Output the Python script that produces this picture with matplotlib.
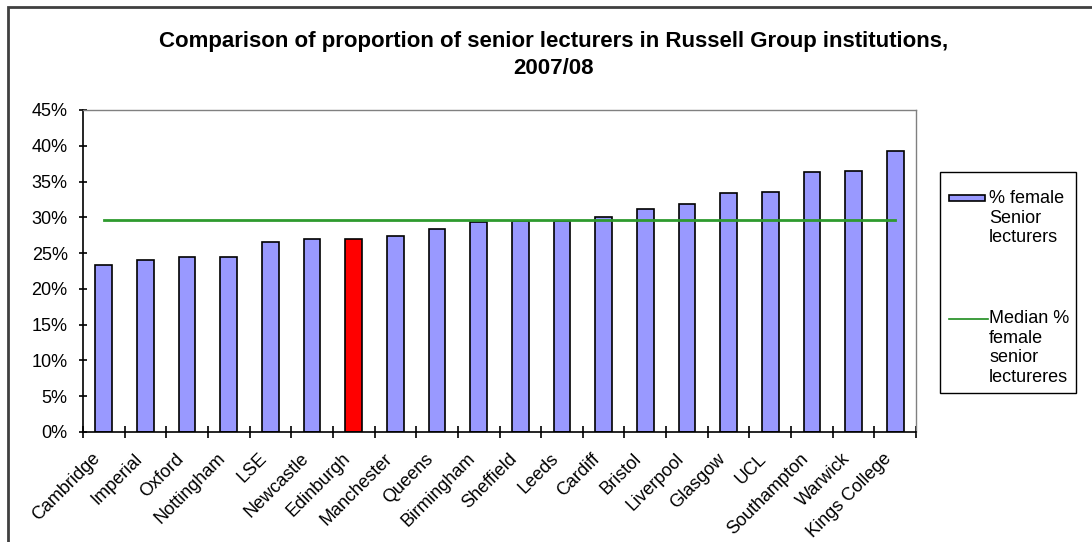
import matplotlib.pyplot as plt
from matplotlib.patches import Rectangle
from matplotlib.lines import Line2D
from matplotlib.ticker import MultipleLocator, FuncFormatter
from matplotlib.transforms import ScaledTranslation
import numpy as np

plt.rcParams['font.family'] = ['Liberation Sans', 'DejaVu Sans']

institutions = ['Cambridge', 'Imperial', 'Oxford', 'Nottingham', 'LSE', 'Newcastle',
                'Edinburgh', 'Manchester', 'Queens', 'Birmingham', 'Sheffield', 'Leeds',
                'Cardiff', 'Bristol', 'Liverpool', 'Glasgow', 'UCL', 'Southampton',
                'Warwick', 'Kings College']
pct_female = [23.3, 24.1, 24.5, 24.5, 26.5, 27.0, 27.0, 27.4, 28.3, 29.3,
              29.5, 29.5, 30.0, 31.2, 31.8, 33.4, 33.6, 36.3, 36.5, 39.3]
median_pct = 29.6
highlight = 'Edinburgh'
bar_label = '% female\nSenior\nlecturers'
line_label = 'Median %\nfemale\nsenior\nlectureres'

W, H = 1092, 542
def fx(px): return px / W
def fy(py): return 1 - py / H

x = np.arange(len(institutions))
colors = ['#FF0000' if n == highlight else '#9999FF' for n in institutions]

fig = plt.figure(figsize=(10.92, 5.42), dpi=100)
ax = fig.add_axes([fx(83), fy(432), fx(916 - 83), (432 - 110) / H])

ax.bar(x, pct_female, width=0.4, color=colors, edgecolor='black', linewidth=1.2, zorder=2)
ax.plot(x, [median_pct] * len(x), color='#2E9A2E', linewidth=2, zorder=3)

ax.set_xlim(-0.5, len(x) - 0.5)
ax.set_ylim(0, 45)
ax.yaxis.set_major_locator(MultipleLocator(5))
ax.yaxis.set_major_formatter(FuncFormatter(lambda v, p: f'{v:.0f}%'))
ax.set_xticks(x)
ax.set_xticklabels(institutions, rotation=45, ha='right', rotation_mode='anchor')
ax.set_xticks(np.arange(-0.5, len(x)), minor=True)
ax.tick_params(axis='x', which='major', length=0, labelsize=13, pad=13)
ax.tick_params(axis='x', which='minor', direction='inout', length=8, width=1.2)
ax.tick_params(axis='y', direction='inout', length=6, width=1.2, labelsize=13, pad=8)
shift = ScaledTranslation(-12 / 100, 0, fig.dpi_scale_trans)
for lbl in ax.get_xticklabels():
    lbl.set_transform(lbl.get_transform() + shift)

for s in ['left', 'bottom']:
    ax.spines[s].set_color('black')
    ax.spines[s].set_linewidth(1.2)
for s in ['top', 'right']:
    ax.spines[s].set_color('#808080')
    ax.spines[s].set_linewidth(1.0)

fig.text(fx(554), fy(31),
         'Comparison of proportion of senior lecturers in Russell Group institutions,\n2007/08',
         ha='center', va='top', fontsize=16, fontweight='bold', linespacing=1.4)

# legend box drawn by hand so the handles sit on the first text line, as in Excel
fig.patches.append(Rectangle((fx(940), fy(393)), fx(1076 - 940), (393 - 172) / H,
                             transform=fig.transFigure, facecolor='white',
                             edgecolor='black', linewidth=1.0))
fig.patches.append(Rectangle((fx(949), fy(201)), fx(985 - 949), 6 / H,
                             transform=fig.transFigure, facecolor='#9999FF',
                             edgecolor='black', linewidth=1.2))
fig.lines.append(Line2D([fx(949), fx(988)], [fy(319), fy(319)],
                        transform=fig.transFigure, color='#1E8C1E', linewidth=1.2))
fig.text(fx(989), fy(190), bar_label, ha='left', va='top', fontsize=13)
fig.text(fx(989), fy(310), line_label, ha='left', va='top', fontsize=13)

fig.patches.append(Rectangle((fx(8), -0.1), 1.2, fy(7) + 0.1, transform=fig.transFigure,
                             fill=False, edgecolor='#404040', linewidth=2))

fig.savefig('out.png', dpi=100)
